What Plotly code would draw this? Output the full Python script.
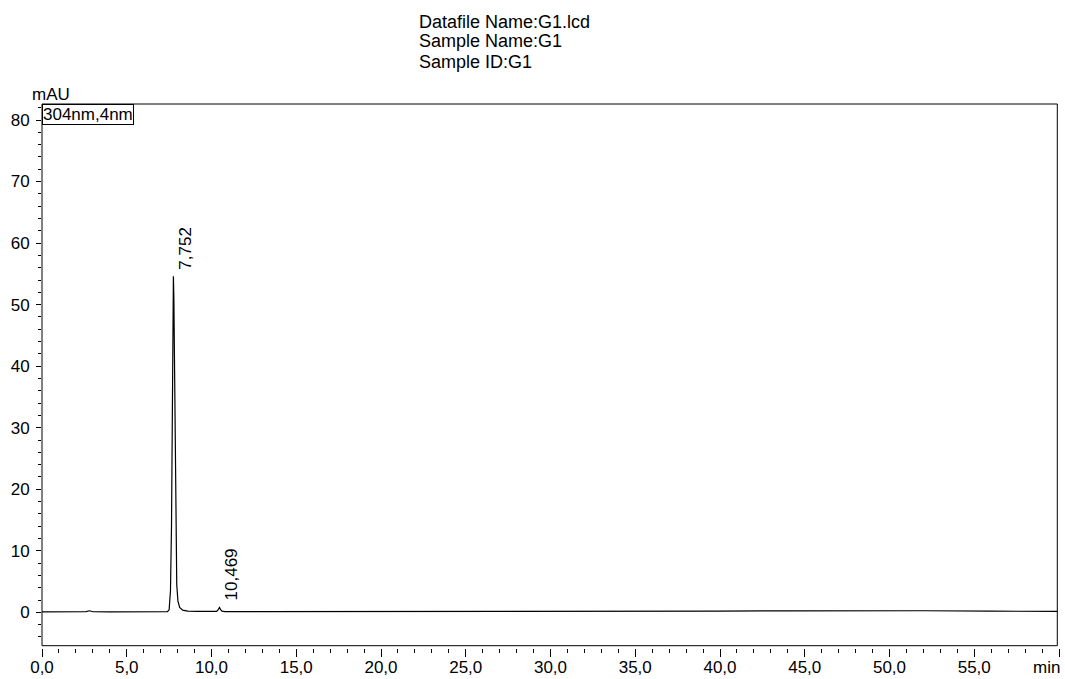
import plotly.graph_objects as go

# Chromatogram trace (retention time in min, absorbance in mAU at 304 nm)
time_min = [0.0, 1.0, 2.0, 2.6, 2.8, 3.0, 4.0, 5.0, 6.0, 7.0, 7.40, 7.50, 7.58,
            7.64, 7.69, 7.73, 7.752, 7.78, 7.82, 7.86, 7.90, 7.95, 8.02, 8.12,
            8.30, 8.60, 9.2, 10.0, 10.30, 10.40, 10.469, 10.54, 10.62, 10.80,
            11.5, 13.0, 16.0, 20.0, 25.0, 30.0, 35.0, 40.0, 44.0, 48.0, 52.0,
            56.0, 59.9]
absorb_mau = [0.08, 0.06, 0.08, 0.10, 0.25, 0.09, 0.08, 0.08, 0.07, 0.08, 0.10,
              0.4, 3.5, 14.0, 33.0, 50.0, 54.6, 51.0, 38.0, 22.0, 11.0, 4.5,
              1.8, 0.8, 0.35, 0.2, 0.14, 0.12, 0.15, 0.45, 0.78, 0.45, 0.18,
              0.12, 0.12, 0.10, 0.10, 0.12, 0.14, 0.16, 0.18, 0.20, 0.24, 0.30,
              0.25, 0.18, 0.15]

# Labelled peaks
peak_times = [7.752, 10.469]
peak_heights = [54.6, 0.78]
peak_labels = ["7,752", "10,469"]

# Axis ticks
x_tickvals = [0, 5, 10, 15, 20, 25, 30, 35, 40, 45, 50, 55, 60]
x_ticktext = ["0,0", "5,0", "10,0", "15,0", "20,0", "25,0", "30,0", "35,0",
              "40,0", "45,0", "50,0", "55,0", ""]
y_tickvals = [0, 10, 20, 30, 40, 50, 60, 70, 80]
y_ticktext = ["0", "10", "20", "30", "40", "50", "60", "70", "80"]

header_lines = ["Datafile Name:G1.lcd", "Sample Name:G1", "Sample ID:G1"]
channel_label = "304nm,4nm"

W, H = 1065, 679
L, R, T, B = 42, 1059, 104, 648
FONT = "Liberation Sans, Arial, sans-serif"


def px_x(px):
    return (px - L) / (R - L)


def px_y(py):
    return (B - py) / (B - T)


fig = go.Figure()
fig.add_trace(go.Scatter(x=time_min, y=absorb_mau, mode="lines",
                         line=dict(color="black", width=1.2),
                         showlegend=False, hoverinfo="skip"))

annotations = []
for i, line in enumerate(header_lines):
    annotations.append(dict(text=line, xref="paper", yref="paper",
                            x=px_x(417), y=px_y(21.5 + 20 * i),
                            xanchor="left", yanchor="middle", showarrow=False,
                            font=dict(size=18, family=FONT, color="black")))

annotations.append(dict(text="mAU", xref="paper", yref="paper",
                        x=px_x(30), y=px_y(95), xanchor="left", yanchor="middle",
                        showarrow=False,
                        font=dict(size=17, family=FONT, color="black")))

annotations.append(dict(text=channel_label, xref="paper", yref="paper",
                        x=0, y=1, xanchor="left", yanchor="top", showarrow=False,
                        bordercolor="black", borderwidth=1, borderpad=0,
                        bgcolor="white",
                        font=dict(size=17, family=FONT, color="black")))

annotations.append(dict(text="min", xref="x", yref="paper", x=60,
                        y=px_y(667), xanchor="right", yanchor="middle",
                        xshift=3, showarrow=False,
                        font=dict(size=17, family=FONT, color="black")))

for t, h, lab in zip(peak_times, peak_heights, peak_labels):
    annotations.append(dict(text=lab, xref="x", yref="y", x=t, y=h,
                            textangle=-90, xanchor="left", yanchor="bottom",
                            xshift=1, yshift=5, showarrow=False,
                            font=dict(size=17, family=FONT, color="black")))

fig.update_layout(
    width=W, height=H,
    margin=dict(l=L, r=W - R, t=T, b=H - B, pad=0, autoexpand=False),
    paper_bgcolor="white", plot_bgcolor="white",
    font=dict(family=FONT, size=17, color="black"),
    annotations=annotations,
    shapes=[dict(type="rect", xref="paper", yref="paper",
                 x0=0, x1=px_x(1057.3), y0=px_y(645.7), y1=1,
                 line=dict(color="black", width=1), layer="above")],
    xaxis=dict(range=[0, 60], tickvals=x_tickvals, ticktext=x_ticktext,
               ticks="outside", ticklen=8, tickwidth=1, tickcolor="black",
               minor=dict(dtick=1, tick0=0, ticks="outside", ticklen=4,
                          tickwidth=1, tickcolor="black"),
               showgrid=False, zeroline=False, showline=False,
               automargin=False, ticklabelstandoff=-4,
               tickfont=dict(size=17, family=FONT, color="black")),
    yaxis=dict(range=[-5.8, 82.6],
               tickvals=y_tickvals, ticktext=y_ticktext,
               ticks="outside", ticklen=5, tickwidth=1, tickcolor="black",
               minor=dict(dtick=2, tick0=0, ticks="outside", ticklen=3,
                          tickwidth=1, tickcolor="black"),
               showgrid=False, zeroline=False, showline=False,
               automargin=False, ticklabelstandoff=3,
               tickfont=dict(size=17, family=FONT, color="black")),
)

fig.write_html("out.html")
